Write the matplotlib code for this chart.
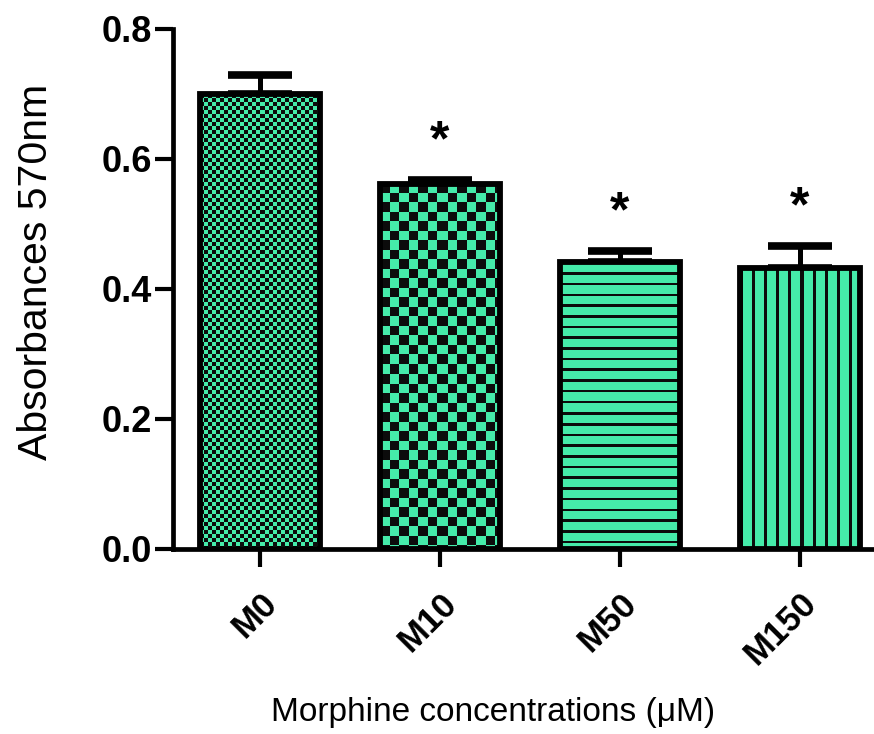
import numpy as np
import matplotlib
matplotlib.use("Agg")
import matplotlib.pyplot as plt

#--------Data--------#
groups = ["M0", "M10", "M50", "M150"]
means = [0.700, 0.562, 0.442, 0.433]
sems = [0.030, 0.005, 0.016, 0.033]
signif = ["", "*", "*", "*"]
#--------------------#

plt.rcParams['font.family'] = ['Liberation Sans', 'DejaVu Sans']

green = "#45EBAA"
W, H = 874, 734
fig = plt.figure(figsize=(W / 100, H / 100), dpi=100)
ax = fig.add_axes([173 / W, 185 / H, (W - 173) / W, 520 / H])

x = np.arange(len(groups))
ax.set_xlim(-0.483, 3.411)
ax.set_ylim(0, 0.8)

bars = ax.bar(x, means, width=0.667, facecolor="none", edgecolor="black",
              linewidth=4.2, zorder=3)
ax.errorbar(x, means, yerr=[np.zeros(len(sems)), sems], fmt="none",
            ecolor="black", elinewidth=3.6, capsize=23, capthick=5.5, zorder=1)

# fill patterns (checker / fine checker / stripes) clipped to each bar
def pattern(kind, h, w):
    i, j = np.indices((h, w))
    if kind == "fine":
        dark = ((i // 4) + (j // 4)) % 2 == 0
    elif kind == "check":
        dark = ((i // 9.5).astype(int) + (j // 9.5).astype(int)) % 2 == 0
    elif kind == "hline":
        dark = (i % 10.7) < 2.6
    else:
        dark = (j % 12) < 3
    img = np.zeros((h, w, 4))
    rgb = matplotlib.colors.to_rgb(green)
    img[..., :3] = rgb
    img[..., 3] = 1
    img[dark, :3] = 0.05
    return img

kinds = ["fine", "check", "hline", "vline"]
fig.canvas.draw()
for b, k in zip(bars, kinds):
    x0, y0 = b.get_x(), b.get_y()
    x1, y1 = x0 + b.get_width(), y0 + b.get_height()
    p0 = ax.transData.transform((x0, y0))
    p1 = ax.transData.transform((x1, y1))
    w = int(round(abs(p1[0] - p0[0])))
    h = int(round(abs(p1[1] - p0[1])))
    im = ax.imshow(pattern(k, h, w), extent=(x0, x1, y0, y1), aspect="auto",
                   interpolation="nearest", zorder=2)
    im.set_clip_path(b)

for xi, m, s, t in zip(x, means, sems, signif):
    if t:
        ax.text(xi, m + s + 0.058, t, ha="center", va="center",
                fontsize=36, fontweight="bold")

ax.set_aspect("auto")
ax.set_xlim(-0.483, 3.411)
ax.set_ylim(0, 0.8)

ax.spines["top"].set_visible(False)
ax.spines["right"].set_visible(False)
ax.spines["left"].set_linewidth(3.4)
ax.spines["bottom"].set_linewidth(3.4)

ax.set_yticks([0.0, 0.2, 0.4, 0.6, 0.8])
ax.set_yticklabels(["0.0", "0.2", "0.4", "0.6", "0.8"], fontsize=26,
                   fontweight="bold")
ax.tick_params(axis="y", length=13, width=3, pad=2)
ax.set_xticks(x)
ax.set_xticklabels(groups, fontsize=25, fontweight="bold", rotation=45,
                   ha="right", va="top", rotation_mode="anchor")
ax.tick_params(axis="x", length=13, width=3, pad=14)

ax.set_ylabel("Absorbances 570nm", fontsize=29.5)
ax.yaxis.set_label_coords(-0.168, 0.533)
ax.set_xlabel("Morphine concentrations (\u03bcM)", fontsize=24)
ax.xaxis.set_label_coords(0.456, -0.285)

fig.savefig("out.png", dpi=100)
